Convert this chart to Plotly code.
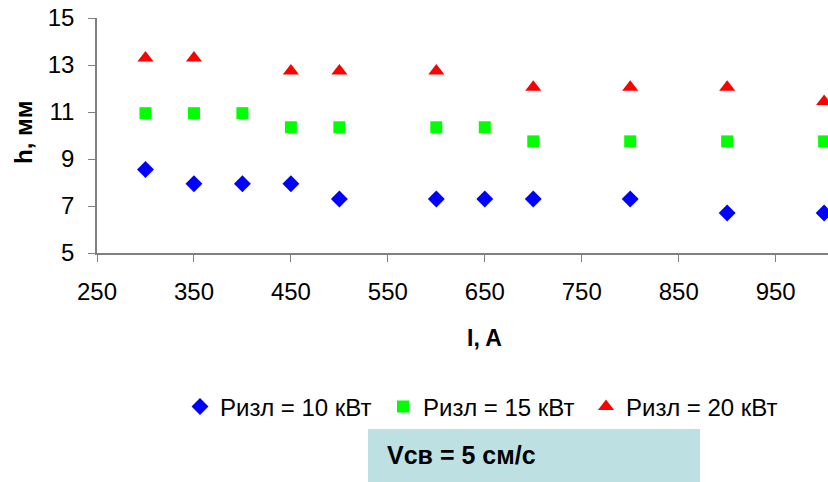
import plotly.graph_objects as go

# Data
x_10 = [300, 350, 400, 450, 500, 600, 650, 700, 800, 900, 1000]
h_10 = [8.55, 7.95, 7.95, 7.95, 7.3, 7.3, 7.3, 7.3, 7.3, 6.7, 6.7]
x_15 = [300, 350, 400, 450, 500, 600, 650, 700, 800, 900, 1000]
h_15 = [10.95, 10.95, 10.95, 10.35, 10.35, 10.35, 10.35, 9.75, 9.75, 9.75, 9.75]
x_20 = [300, 350, 450, 500, 600, 700, 800, 900, 1000]
h_20 = [13.3, 13.3, 12.75, 12.75, 12.75, 12.05, 12.05, 12.05, 11.45]
names = ["Ризл = 10 кВт", "Ризл = 15 кВт", "Ризл = 20 кВт"]
x_ticks = [250, 350, 450, 550, 650, 750, 850, 950]
y_ticks = [5, 7, 9, 11, 13, 15]

FONT = "Liberation Sans, Arial, sans-serif"

fig = go.Figure()
fig.add_trace(go.Scatter(x=x_10, y=h_10, mode="markers", name=names[0],
                         marker=dict(symbol="diamond", color="#0000ff", size=13)))
fig.add_trace(go.Scatter(x=x_15, y=h_15, mode="markers", name=names[1],
                         marker=dict(symbol="square", color="#00ff00", size=12)))
fig.add_trace(go.Scatter(x=x_20, y=h_20, mode="markers", name=names[2],
                         marker=dict(symbol="triangle-up", color="#ff0000", size=14)))

axis_common = dict(showgrid=False, zeroline=False, showline=True, linecolor="#808080",
                   linewidth=1.5, ticks="outside", ticklen=7, tickcolor="#808080",
                   tickfont=dict(family=FONT, size=24, color="black"))

fig.update_xaxes(range=[250, 1004], tickvals=x_ticks, ticklabelstandoff=9, **axis_common)
fig.update_yaxes(range=[5, 15], tickvals=y_ticks, ticklabelstandoff=9, **axis_common)

fig.update_layout(
    width=828, height=482,
    margin=dict(l=97, r=0, t=18, b=229),
    plot_bgcolor="white", paper_bgcolor="white",
    font=dict(family=FONT, size=20, color="black"),
    showlegend=True,
    legend=dict(orientation="h", x=(180 - 97) / 731, xanchor="left", y=-0.655, yanchor="middle",
                font=dict(family=FONT, size=24, color="black"),
                itemwidth=30, tracegroupgap=0, entrywidth=158, entrywidthmode="pixels"),
    annotations=[
        dict(text="<b>I, A</b>", xref="paper", yref="paper", x=(484 - 97) / 731,
             y=(253 - 338) / 235, xanchor="center", yanchor="middle", showarrow=False,
             font=dict(family=FONT, size=23, color="black")),
        dict(text="<b>h, мм</b>", xref="paper", yref="paper", x=(23 - 97) / 731,
             y=(253 - 132) / 235, xanchor="center", yanchor="middle", showarrow=False,
             textangle=-90, font=dict(family=FONT, size=24, color="black")),
        dict(text="<b>Vcв = 5 см/с</b>", xref="paper", yref="paper", x=(385 - 97) / 731,
             y=(253 - 455) / 235, xanchor="left", yanchor="middle", showarrow=False,
             font=dict(family=FONT, size=25, color="black")),
    ],
    shapes=[
        dict(type="rect", xref="paper", yref="paper", x0=(368 - 97) / 731, x1=(700 - 97) / 731,
             y0=(253 - 428) / 235, y1=(253 - 482) / 235, fillcolor="#bde0e2",
             line=dict(width=0), layer="below"),
    ],
)

fig.write_html("out.html")
